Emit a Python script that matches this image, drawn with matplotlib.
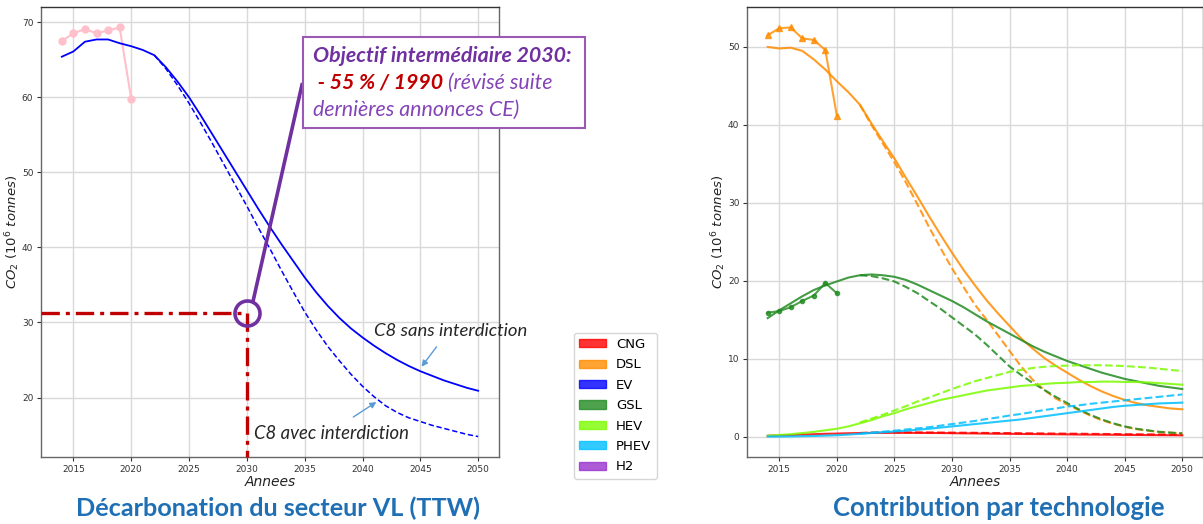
import matplotlib
matplotlib.use("Agg")
import matplotlib.pyplot as plt
from matplotlib.patches import Patch, Rectangle

W, H = 1203, 524
plt.rcParams['mathtext.default'] = 'it'

# ---------------- data ----------------
years = list(range(2014, 2051))
years_hist = list(range(2014, 2021))
years_scen = list(range(2022, 2051))

# total TTW emissions of light vehicles (Mt CO2)
total_hist = [67.5, 68.5, 69.1, 68.5, 68.9, 69.3, 59.8]
total_sans = [65.4, 66.1, 67.4, 67.7, 67.7, 67.2, 66.8,
              66.3, 65.6, 64.0, 62.1, 60.0, 57.6, 55.1, 52.6, 50.1, 47.6,
              45.1, 42.7, 40.4, 38.2, 36.0, 34.0, 32.2, 30.6, 29.2, 28.0,
              26.9, 25.9, 25.0, 24.2, 23.5, 22.9, 22.3, 21.8, 21.3, 20.9]
total_avec = [65.6, 63.8, 61.6, 59.2, 56.6, 53.9, 51.1, 48.3, 45.5,
              42.6, 39.8, 36.9, 34.1, 31.4, 29.0, 26.8, 24.9, 23.1, 21.5,
              20.1, 18.9, 18.0, 17.3, 16.8, 16.3, 15.9, 15.5, 15.1, 14.8]
target_year = 2030
target_value = 31.2

# contribution by technology
techs = ['CNG', 'DSL', 'EV', 'GSL', 'HEV', 'PHEV', 'H2']
tech_colors = ['red', 'darkorange', 'blue', 'forestgreen', 'lawngreen',
               'deepskyblue', 'darkorchid']

dsl_hist = [51.5, 52.4, 52.5, 51.1, 50.9, 49.6, 41.2]
gsl_hist = [15.9, 16.1, 16.6, 17.4, 18.1, 19.7, 18.4]

cng_sans = [0.1, 0.15, 0.2, 0.25, 0.3, 0.35, 0.38,
            0.42, 0.45, 0.47, 0.48, 0.48, 0.48, 0.47, 0.46, 0.45, 0.43,
            0.41, 0.40, 0.38, 0.36, 0.35, 0.33, 0.32, 0.30, 0.29, 0.28,
            0.26, 0.25, 0.24, 0.23, 0.21, 0.20, 0.19, 0.18, 0.17, 0.16]
cng_avec = [0.46, 0.5, 0.52, 0.53, 0.53, 0.53, 0.52, 0.51, 0.5,
            0.49, 0.48, 0.46, 0.45, 0.44, 0.42, 0.41, 0.4, 0.38, 0.37,
            0.36, 0.34, 0.33, 0.32, 0.3, 0.29, 0.28, 0.27, 0.26, 0.25]

dsl_sans = [50.0, 49.8, 49.9, 49.5, 48.4, 47.1, 45.6,
            44.2, 42.6, 40.2, 37.9, 35.7, 33.2, 30.8, 28.3, 25.9, 23.6,
            21.4, 19.4, 17.5, 15.8, 14.2, 12.6, 11.3, 10.1, 9.1, 8.2,
            7.3, 6.5, 5.8, 5.2, 4.7, 4.3, 4.0, 3.8, 3.6, 3.5]
dsl_avec = [42.6, 40.0, 37.6, 35.2, 32.6, 29.8, 26.9, 24.2, 21.6,
            19.2, 16.9, 15.0, 13.0, 11.0, 9.0, 7.3, 6.0, 4.9, 4.1,
            3.4, 2.7, 2.1, 1.65, 1.25, 0.95, 0.75, 0.6, 0.5, 0.4]

gsl_sans = [15.2, 16.2, 17.1, 18.0, 18.8, 19.4, 19.9,
            20.4, 20.7, 20.8, 20.7, 20.5, 20.1, 19.5, 18.8, 18.1, 17.4,
            16.6, 15.7, 14.8, 14.0, 13.2, 12.4, 11.6, 10.9, 10.3, 9.7,
            9.2, 8.7, 8.2, 7.8, 7.4, 7.1, 6.8, 6.5, 6.3, 6.1]
gsl_avec = [20.7, 20.6, 20.3, 19.9, 19.2, 18.4, 17.4, 16.4, 15.3,
            14.2, 13.1, 11.8, 10.4, 9.0, 7.9, 6.9, 6.0, 5.1, 4.3,
            3.5, 2.8, 2.2, 1.7, 1.3, 1.0, 0.8, 0.6, 0.5, 0.4]

hev_sans = [0.1, 0.2, 0.3, 0.45, 0.6, 0.8, 1.0,
            1.3, 1.7, 2.1, 2.6, 3.0, 3.5, 3.9, 4.3, 4.7, 5.0,
            5.3, 5.6, 5.9, 6.1, 6.3, 6.5, 6.6, 6.75, 6.85, 6.9,
            7.0, 7.0, 7.05, 7.05, 7.0, 7.0, 6.95, 6.85, 6.75, 6.65]
hev_avec = [1.8, 2.3, 2.8, 3.35, 3.9, 4.5, 5.0, 5.55, 6.1,
            6.6, 7.1, 7.5, 7.9, 8.3, 8.55, 8.8, 8.95, 9.05, 9.1,
            9.15, 9.15, 9.15, 9.1, 9.05, 8.95, 8.85, 8.7, 8.55, 8.4]

phev_sans = [0.0, 0.0, 0.02, 0.05, 0.08, 0.12, 0.17,
             0.25, 0.35, 0.45, 0.55, 0.65, 0.75, 0.87, 1.0, 1.15, 1.3,
             1.45, 1.6, 1.75, 1.9, 2.05, 2.2, 2.4, 2.6, 2.8, 3.0,
             3.2, 3.4, 3.6, 3.8, 3.95, 4.05, 4.15, 4.25, 4.3, 4.35]
phev_avec = [0.37, 0.5, 0.62, 0.75, 0.9, 1.05, 1.2, 1.4, 1.6,
             1.8, 2.0, 2.25, 2.45, 2.7, 2.9, 3.15, 3.4, 3.6, 3.85,
             4.0, 4.2, 4.35, 4.5, 4.65, 4.8, 4.95, 5.1, 5.25, 5.4]

# ---------------- figure ----------------
fig = plt.figure(figsize=(W / 100, H / 100), dpi=100)
renderer = fig.canvas.get_renderer()


def fig_px(x, y):
    return x / W, 1 - y / H


def fit_width(t, target_px):
    w = t.get_window_extent(renderer).width
    t.set_fontsize(t.get_fontsize() * target_px / w)


ax1 = fig.add_axes([41 / W, 1 - 457 / H, 458 / W, 450 / H])
ax2 = fig.add_axes([747 / W, 1 - 457 / H, 456 / W, 450 / H])


def style(ax):
    ax.grid(True, color='#d9d9d9', lw=1.0)
    ax.set_axisbelow(True)
    ax.tick_params(labelsize=6.5, colors='#333333', length=3, width=0.8, pad=2.5)
    for s in ax.spines.values():
        s.set_color('#666666')
        s.set_linewidth(1.0)
    ax.spines['top'].set_color('#333333')
    ax.set_xlabel('Annees', fontsize=10, style='italic', color='#222222', labelpad=1)
    ax.set_ylabel(r'$CO_2\ (10^6\ tonnes)$', fontsize=9.5, color='#222222',
                  labelpad=0)


# ---- left: total emissions ----
ax1.plot(years_hist, total_hist, color='pink', marker='o', ms=5, lw=1.5)
ax1.plot(years, total_sans, color='blue', lw=1.3)
ax1.plot(years_scen, total_avec, color='blue', lw=1.1, ls=(0, (3.5, 1.8)))
style(ax1)
ax1.set_xlim(ax1.get_xlim())
ax1.set_ylim(ax1.get_ylim())

x0 = ax1.get_xlim()[0]
y0 = ax1.get_ylim()[0]
ax1.plot([x0, target_year, target_year], [target_value, target_value, y0],
         color='#C00000', lw=2.4, ls=(0, (5.5, 1.8, 1.2, 1.8)),
         scalex=False, scaley=False, clip_on=False, zorder=4)
ax1.plot([target_year], [target_value], marker='o', ms=18, mfc='none',
         mec='#7030A0', mew=2.6, clip_on=False, zorder=5)
ax1.plot([2030.5, 2034.8], [32.6, 61.9], color='#7030A0', lw=2.6,
         clip_on=False, zorder=5, solid_capstyle='butt')

t_sans = ax1.text(2041.0, 28.8, 'C8 sans interdiction', fontfamily='Lato',
                  style='italic', fontsize=11.5, va='center', color='#262626')
t_avec = ax1.text(2030.65, 15.2, 'C8 avec interdiction', fontfamily='Lato',
                  style='italic', fontsize=11.5, va='center', color='#262626')
fit_width(t_sans, 153)
fit_width(t_avec, 155)
arrow = dict(arrowstyle='-|>', color='#5B9BD5', lw=1.0, mutation_scale=9,
             shrinkA=0, shrinkB=0)
ax1.annotate('', xy=(2045.1, 24.1), xytext=(2046.4, 26.75), arrowprops=arrow)
ax1.annotate('', xy=(2041.2, 19.4), xytext=(2039.2, 17.4), arrowprops=arrow)

# callout box
bx0, by0, bx1, by1 = 303.3, 36.7, 585.0, 128.3
fig.add_artist(Rectangle(fig_px(bx0, by1), (bx1 - bx0) / W, (by1 - by0) / H,
                         transform=fig.transFigure, fc='white', ec='#9B59B6',
                         lw=1.5, zorder=5))
box_font = dict(fontfamily='Lato', style='italic', va='baseline', zorder=6)
l1 = fig.text(*fig_px(313, 62), 'Objectif intermédiaire 2030:', color='#7030A0',
              fontweight='bold', fontsize=14, **box_font)
fit_width(l1, 259)
fs_box = l1.get_fontsize()
l2 = fig.text(*fig_px(313, 89), ' - 55 % / 1990', color='#C00000',
              fontweight='bold', fontsize=fs_box, **box_font)
l2_right = l2.get_window_extent(renderer).x1
fig.text(l2_right / W, 1 - 89 / H, ' (révisé suite', color='#8444B8',
         fontsize=fs_box, **box_font)
fig.text(*fig_px(313, 116), 'dernières annonces CE)', color='#8444B8',
         fontsize=fs_box, **box_font)

# ---- right: contribution by technology ----
c = dict(zip(techs, tech_colors))
ax2.plot(years_hist, dsl_hist, color=c['DSL'], marker='^', ms=5, lw=1.5, alpha=0.8)
ax2.plot(years_hist, gsl_hist, color=c['GSL'], marker='o', ms=3, lw=1.5, alpha=0.8)
for tech, sans, avec in [('CNG', cng_sans, cng_avec), ('DSL', dsl_sans, dsl_avec),
                         ('GSL', gsl_sans, gsl_avec), ('HEV', hev_sans, hev_avec),
                         ('PHEV', phev_sans, phev_avec)]:
    ax2.plot(years, sans, color=c[tech], lw=1.5, alpha=0.85)
    ax2.plot(years_scen, avec, color=c[tech], lw=1.5, alpha=0.85, ls='--')
style(ax2)

# legend
handles = [Patch(facecolor=col, edgecolor=col, alpha=0.8, label=t)
           for t, col in zip(techs, tech_colors)]
fig.legend(handles=handles, loc='upper left', bbox_to_anchor=fig_px(574, 332.7),
           borderaxespad=0, fontsize=9.5, handlelength=2.0, handleheight=0.58,
           labelspacing=0.56)

# titles
title_style = dict(fontfamily='Lato', fontweight='bold', color='#1F6FB5',
                   ha='center', va='center', fontsize=20)
t1 = fig.text(*fig_px(278, 508), 'Décarbonation du secteur VL (TTW)', **title_style)
t2 = fig.text(*fig_px(999, 508), 'Contribution par technologie', **title_style)
fit_width(t1, 406)
fit_width(t2, 332)

fig.savefig('out.png', dpi=100)
